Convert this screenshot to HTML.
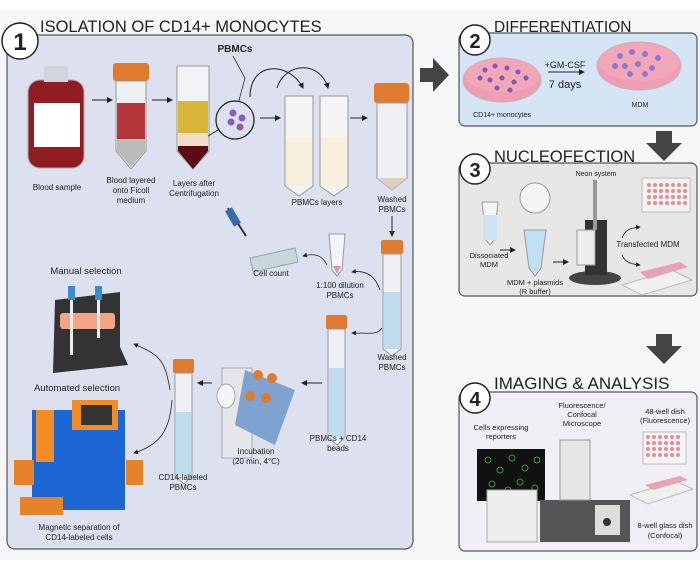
<!DOCTYPE html>
<html><head><meta charset="utf-8"><style>
html,body{margin:0;padding:0;background:#fff}
svg{display:block}
text{font-family:"Liberation Sans",sans-serif;fill:#222}
</style></head><body>
<svg width="700" height="571" viewBox="0 0 700 571" xmlns="http://www.w3.org/2000/svg">
<defs>
<marker id="a" markerWidth="6" markerHeight="6" refX="5" refY="3" orient="auto"><path d="M0,0L6,3L0,6z" fill="#222"/></marker>
</defs>
<rect x="0" y="10" width="700" height="550" fill="#f6f7f9"/>
<rect x="7" y="35" width="406" height="514" rx="8" fill="#dde0ef" stroke="#555" stroke-width="1.2"/>
<circle cx="20" cy="41" r="18" fill="#fff" stroke="#222" stroke-width="1.5"/>
<text x="20" y="50" font-size="24" font-weight="bold" text-anchor="middle">1</text>
<text x="40" y="32" font-size="16.5">ISOLATION OF CD14+ MONOCYTES</text>
<rect x="28" y="80" width="56" height="88" rx="12" fill="#8f1d22" stroke="#aaa"/>
<rect x="44" y="66" width="24" height="16" fill="#cfd6dc"/>
<rect x="34" y="103" width="46" height="44" fill="#fff"/>
<text x="57" y="190" font-size="8" text-anchor="middle">Blood sample</text>
<rect x="113" y="63" width="36" height="18" rx="3" fill="#e07a2e"/>
<path d="M116,81h30v70l-15,18l-15,-18z" fill="#eef0f3" stroke="#999"/>
<rect x="117" y="103" width="28" height="36" fill="#b3363b"/>
<path d="M117,139h28v12l-14,16l-14,-16z" fill="#bbb"/>
<text x="131" y="183" font-size="8" text-anchor="middle">Blood layered</text>
<text x="131" y="193" font-size="8" text-anchor="middle">onto Ficoll</text>
<text x="131" y="203" font-size="8" text-anchor="middle">medium</text>
<path d="M177,66h32v85l-16,18l-16,-18z" fill="#f2f3f5" stroke="#999"/>
<rect x="178" y="101" width="30" height="32" fill="#d7b63a"/>
<rect x="178" y="133" width="30" height="13" fill="#f0dcc8"/>
<path d="M178,146h30v5l-15,18l-15,-18z" fill="#5c0b12"/>
<text x="194" y="186" font-size="8" text-anchor="middle">Layers after</text>
<text x="194" y="196" font-size="8" text-anchor="middle">Centrifugation</text>
<text x="235" y="52" font-size="10" font-weight="bold" text-anchor="middle">PBMCs</text>
<path d="M233,56l12,22l-8,30" stroke="#333" fill="none" stroke-width="0.8"/>
<circle cx="235" cy="120" r="19" fill="#dde0ef" stroke="#222" stroke-width="1.3"/>
<circle cx="233" cy="113" r="3.5" fill="#8a5bb8"/><circle cx="242" cy="118" r="3.5" fill="#8a5bb8"/><circle cx="231" cy="122" r="3.5" fill="#8a5bb8"/><circle cx="240" cy="127" r="3.5" fill="#8a5bb8"/>
<path d="M218,130l-10,6" stroke="#222"/>
<path d="M92,100h20" stroke="#222" marker-end="url(#a)"/>
<path d="M152,100h20" stroke="#222" marker-end="url(#a)"/>
<path d="M260,118h20" stroke="#222" marker-end="url(#a)"/>
<path d="M250,97C250,60 290,62 303,88" stroke="#222" fill="none" marker-end="url(#a)"/>
<path d="M277,88C285,62 320,60 328,88" stroke="#222" fill="none" marker-end="url(#a)"/>
<path d="M285,96h28v90l-14,10l-14,-10z" fill="#f4f4f4" stroke="#999"/>
<path d="M320,96h28v90l-14,10l-14,-10z" fill="#f4f4f4" stroke="#999"/>
<rect x="286" y="138" width="26" height="48" fill="#f6f0dc"/>
<rect x="321" y="138" width="26" height="48" fill="#f6f0dc"/>
<text x="317" y="205" font-size="8" text-anchor="middle">PBMCs layers</text>
<path d="M350,118h17" stroke="#222" marker-end="url(#a)"/>
<rect x="374" y="83" width="35" height="20" rx="3" fill="#e07a2e"/>
<path d="M377,103h30v75l-15,12l-15,-12z" fill="#eef0f3" stroke="#999"/>
<path d="M377,178h30l-15,12z" fill="#ddd0bd"/>
<text x="392" y="202" font-size="8" text-anchor="middle">Washed</text>
<text x="392" y="212" font-size="8" text-anchor="middle">PBMCs</text>
<path d="M392,216v20" stroke="#222" marker-end="url(#a)"/>
<rect x="381" y="240" width="22" height="14" rx="2" fill="#e07a2e"/>
<path d="M383,254h18v95l-9,7l-9,-7z" fill="#eef0f3" stroke="#999"/>
<rect x="384" y="292" width="16" height="57" fill="#bfdcee"/>
<text x="392" y="360" font-size="8" text-anchor="middle">Washed</text>
<text x="392" y="370" font-size="8" text-anchor="middle">PBMCs</text>
<path d="M329,234h16l-3,36l-5,6l-5,-6z" fill="#f5f5f5" stroke="#999"/>
<path d="M333,266h8l-4,8z" fill="#e890b0"/>
<text x="340" y="288" font-size="8" text-anchor="middle">1:100 dilution</text>
<text x="340" y="298" font-size="8" text-anchor="middle">PBMCs</text>
<path d="M380,290C375,275 365,270 352,272" stroke="#222" fill="none" stroke-width="0.8" marker-end="url(#a)"/>
<path d="M327,265C322,255 315,253 303,256" stroke="#222" fill="none" stroke-width="0.8" marker-end="url(#a)"/>
<path d="M250,258l45,-10l3,14l-45,10z" fill="#c7d7dc" stroke="#8aa"/>
<path d="M228,208l18,28" stroke="#333" stroke-width="2"/>
<rect x="229" y="208" width="8" height="18" fill="#3a6aa8" transform="rotate(-30 233 217)"/>
<text x="271" y="276" font-size="8" text-anchor="middle">Cell count</text>
<text x="86" y="274" font-size="9.5" text-anchor="middle">Manual selection</text>
<path d="M55,300l65,-8v55l8,18l-75,8z" fill="#333"/>
<rect x="60" y="313" width="55" height="16" rx="3" fill="#f2a585"/>
<rect x="68" y="286" width="7" height="14" fill="#3a8ec8"/><rect x="95" y="286" width="7" height="14" fill="#3a8ec8"/>
<rect x="70" y="300" width="3" height="55" fill="#eee"/><rect x="97" y="300" width="3" height="38" fill="#eee"/>
<text x="77" y="391" font-size="9.5" text-anchor="middle">Automated selection</text>
<rect x="32" y="410" width="93" height="100" fill="#1c66d4"/>
<rect x="72" y="400" width="46" height="30" fill="#f28d26"/>
<rect x="81" y="405" width="31" height="20" fill="#333"/>
<rect x="36" y="410" width="18" height="52" fill="#f28d26"/>
<rect x="14" y="460" width="20" height="25" fill="#e8822a"/><rect x="126" y="460" width="17" height="25" fill="#e8822a"/>
<rect x="20" y="497" width="43" height="18" fill="#e8822a"/>
<text x="79" y="530" font-size="8" text-anchor="middle">Magnetic separation of</text>
<text x="79" y="540" font-size="8" text-anchor="middle">CD14-labeled cells</text>
<path d="M170,390C165,360 160,355 134,344" stroke="#222" fill="none" stroke-width="0.8" marker-end="url(#a)"/>
<path d="M172,400C170,430 160,445 134,453" stroke="#222" fill="none" stroke-width="0.8" marker-end="url(#a)"/>
<rect x="173" y="359" width="21" height="14" rx="2" fill="#e07a2e"/>
<path d="M175,373h17v103l-8,8l-9,-8z" fill="#eef0f3" stroke="#999"/>
<rect x="176" y="412" width="15" height="64" fill="#bfdcee"/>
<text x="183" y="480" font-size="8" text-anchor="middle">CD14-labeled</text>
<text x="183" y="490" font-size="8" text-anchor="middle">PBMCs</text>
<path d="M212,383h-14" stroke="#222" marker-end="url(#a)"/>
<path d="M222,368h30v90h-30z" fill="#e4e6ea" stroke="#aaa"/>
<ellipse cx="226" cy="396" rx="9" ry="12" fill="#f5f5f5" stroke="#aaa"/>
<path d="M245,370l50,20l-20,55l-40,-20z" fill="#7fa3d0"/>
<circle cx="258" cy="375" r="5" fill="#e07a2e"/><circle cx="266" cy="398" r="5" fill="#e07a2e"/><circle cx="250" cy="396" r="5" fill="#e07a2e"/><circle cx="272" cy="378" r="5" fill="#e07a2e"/>
<text x="256" y="454" font-size="8" text-anchor="middle">Incubation</text>
<text x="256" y="464" font-size="8" text-anchor="middle">(20 min, 4°C)</text>
<path d="M322,383h-20" stroke="#222" marker-end="url(#a)"/>
<rect x="326" y="315" width="21" height="14" rx="2" fill="#e07a2e"/>
<path d="M328,329h17v108l-8,8l-9,-8z" fill="#eef0f3" stroke="#999"/>
<rect x="329" y="368" width="15" height="69" fill="#bfdcee"/>
<text x="338" y="441" font-size="8" text-anchor="middle">PBMCs + CD14</text>
<text x="338" y="451" font-size="8" text-anchor="middle">beads</text>
<path d="M382,328C378,335 370,333 352,333" stroke="#222" fill="none" stroke-width="0.8" marker-end="url(#a)"/>
<path d="M420,68h13v-10l16,17l-16,17v-10h-13z" fill="#444"/>
<rect x="459" y="33" width="238" height="93" rx="6" fill="#d5e5f5" stroke="#555" stroke-width="1.2"/>
<circle cx="475" cy="40" r="15" fill="#fff" stroke="#222" stroke-width="1.5"/>
<text x="475" y="48" font-size="20" font-weight="bold" text-anchor="middle">2</text>
<text x="494" y="32" font-size="15.5">DIFFERENTIATION</text>
<ellipse cx="502" cy="80" rx="39" ry="22" fill="#ef9db2" stroke="#bbb"/>
<ellipse cx="502" cy="75" rx="37" ry="17" fill="#f2a7b9"/>
<g fill="#7a5bb5"><circle cx="485" cy="70" r="2.5"/><circle cx="495" cy="66" r="2.5"/><circle cx="507" cy="68" r="2.5"/><circle cx="518" cy="72" r="2.5"/><circle cx="490" cy="80" r="2.5"/><circle cx="502" cy="78" r="2.5"/><circle cx="514" cy="82" r="2.5"/><circle cx="526" cy="78" r="2.5"/><circle cx="480" cy="78" r="2.5"/><circle cx="497" cy="88" r="2.5"/><circle cx="510" cy="90" r="2.5"/></g>
<text x="502" y="117" font-size="7" text-anchor="middle">CD14+ monocytes</text>
<text x="565" y="68" font-size="9" text-anchor="middle">+GM-CSF</text>
<path d="M548,72h36" stroke="#222" marker-end="url(#a)"/>
<text x="565" y="88" font-size="11" text-anchor="middle">7 days</text>
<ellipse cx="639" cy="66" rx="42" ry="24" fill="#ef9db2" stroke="#bbb"/>
<ellipse cx="639" cy="62" rx="40" ry="19" fill="#f2a7b9"/>
<g fill="#8b7ad0"><circle cx="620" cy="56" r="3"/><circle cx="632" cy="52" r="3"/><circle cx="645" cy="54" r="3"/><circle cx="658" cy="58" r="3"/><circle cx="625" cy="66" r="3"/><circle cx="638" cy="64" r="3"/><circle cx="652" cy="68" r="3"/><circle cx="615" cy="66" r="3"/><circle cx="645" cy="74" r="3"/><circle cx="630" cy="74" r="3"/></g>
<text x="640" y="107" font-size="7" text-anchor="middle">MDM</text>
<path d="M656,131h16v12h10l-18,18l-18,-18h10z" fill="#444"/>
<rect x="459" y="163" width="238" height="133" rx="6" fill="#e7e7e8" stroke="#555" stroke-width="1.2"/>
<circle cx="475" cy="169" r="15" fill="#fff" stroke="#222" stroke-width="1.5"/>
<text x="475" y="177" font-size="20" font-weight="bold" text-anchor="middle">3</text>
<text x="494" y="162" font-size="16.5">NUCLEOFECTION</text>
<path d="M482,202h16l-4,38l-4,5l-4,-5z" fill="#f4f4f4" stroke="#999"/>
<rect x="483" y="215" width="14" height="25" fill="#cfe3f2"/>
<text x="489" y="258" font-size="7.5" text-anchor="middle">Dissociated</text>
<text x="489" y="267" font-size="7.5" text-anchor="middle">MDM</text>
<path d="M500,250h15" stroke="#222" marker-end="url(#a)"/>
<circle cx="535" cy="198" r="15" fill="#f4f4f4" stroke="#999"/>
<path d="M524,230h22l-5,38l-6,8l-6,-8z" fill="#bfe0f5" stroke="#999"/>
<text x="535" y="285" font-size="7.5" text-anchor="middle">MDM + plasmids</text>
<text x="535" y="294" font-size="7.5" text-anchor="middle">(R buffer)</text>
<path d="M553,262h15" stroke="#222" marker-end="url(#a)"/>
<text x="596" y="176" font-size="7" text-anchor="middle">Neon system</text>
<ellipse cx="595" cy="278" rx="26" ry="7" fill="#444"/>
<rect x="585" y="220" width="22" height="55" fill="#333"/>
<rect x="577" y="230" width="18" height="35" fill="#eee" stroke="#999"/>
<rect x="593" y="180" width="4" height="50" fill="#999"/>
<rect x="642" y="178" width="48" height="34" fill="#f3f3f3" stroke="#bbb"/>
<g fill="#e58d93">
<circle cx="649" cy="185" r="2"/><circle cx="655" cy="185" r="2"/><circle cx="661" cy="185" r="2"/><circle cx="667" cy="185" r="2"/><circle cx="673" cy="185" r="2"/><circle cx="679" cy="185" r="2"/><circle cx="685" cy="185" r="2"/>
<circle cx="649" cy="191" r="2"/><circle cx="655" cy="191" r="2"/><circle cx="661" cy="191" r="2"/><circle cx="667" cy="191" r="2"/><circle cx="673" cy="191" r="2"/><circle cx="679" cy="191" r="2"/><circle cx="685" cy="191" r="2"/>
<circle cx="649" cy="197" r="2"/><circle cx="655" cy="197" r="2"/><circle cx="661" cy="197" r="2"/><circle cx="667" cy="197" r="2"/><circle cx="673" cy="197" r="2"/><circle cx="679" cy="197" r="2"/><circle cx="685" cy="197" r="2"/>
<circle cx="649" cy="203" r="2"/><circle cx="655" cy="203" r="2"/><circle cx="661" cy="203" r="2"/><circle cx="667" cy="203" r="2"/><circle cx="673" cy="203" r="2"/><circle cx="679" cy="203" r="2"/><circle cx="685" cy="203" r="2"/>
</g>
<path d="M622,238C625,230 630,228 640,227" stroke="#222" fill="none" stroke-width="0.8" marker-end="url(#a)"/>
<path d="M622,255C625,262 630,264 640,265" stroke="#222" fill="none" stroke-width="0.8" marker-end="url(#a)"/>
<text x="648" y="247" font-size="8" text-anchor="middle">Transfected  MDM</text>
<path d="M622,285l50,-15l20,10l-50,15z" fill="#f0f0f0" stroke="#bbb"/>
<path d="M640,272l40,-10l8,5l-40,12z" fill="#e6a3b5"/>
<path d="M656,334h16v12h10l-18,18l-18,-18h10z" fill="#444"/>
<rect x="459" y="392" width="238" height="159" rx="6" fill="#f2eef6" stroke="#555" stroke-width="1.2"/>
<circle cx="475" cy="398" r="15" fill="#fff" stroke="#222" stroke-width="1.5"/>
<text x="475" y="406" font-size="20" font-weight="bold" text-anchor="middle">4</text>
<text x="494" y="389" font-size="17">IMAGING &amp; ANALYSIS</text>
<text x="582" y="408" font-size="7.5" text-anchor="middle">Fluorescence/</text>
<text x="582" y="417" font-size="7.5" text-anchor="middle">Confocal</text>
<text x="582" y="426" font-size="7.5" text-anchor="middle">Microscope</text>
<text x="501" y="430" font-size="7.5" text-anchor="middle">Cells expressing</text>
<text x="501" y="439" font-size="7.5" text-anchor="middle">reporters</text>
<rect x="477" y="449" width="68" height="52" fill="#111"/>
<g fill="none" stroke="#3a9a3a" stroke-width="1"><circle cx="488" cy="460" r="3"/><circle cx="500" cy="470" r="3"/><circle cx="512" cy="458" r="3"/><circle cx="525" cy="468" r="3"/><circle cx="537" cy="460" r="3"/><circle cx="492" cy="484" r="3"/><circle cx="508" cy="490" r="3"/><circle cx="520" cy="482" r="3"/><circle cx="535" cy="488" r="3"/></g>
<rect x="487" y="490" width="50" height="52" fill="#eee" stroke="#aaa"/>
<rect x="540" y="500" width="90" height="42" fill="#555"/>
<rect x="560" y="440" width="30" height="60" fill="#e6e6e6" stroke="#999"/>
<rect x="595" y="505" width="25" height="30" fill="#ddd"/>
<circle cx="607" cy="522" r="4" fill="#333"/>
<text x="665" y="414" font-size="7.5" text-anchor="middle">48-well dish</text>
<text x="665" y="423" font-size="7.5" text-anchor="middle">(Fluorescence)</text>
<rect x="643" y="432" width="43" height="32" fill="#f4f4f4" stroke="#bbb"/>
<g fill="#e58d93">
<circle cx="648" cy="437" r="2"/><circle cx="654" cy="437" r="2"/><circle cx="660" cy="437" r="2"/><circle cx="666" cy="437" r="2"/><circle cx="672" cy="437" r="2"/><circle cx="678" cy="437" r="2"/>
<circle cx="648" cy="443" r="2"/><circle cx="654" cy="443" r="2"/><circle cx="660" cy="443" r="2"/><circle cx="666" cy="443" r="2"/><circle cx="672" cy="443" r="2"/><circle cx="678" cy="443" r="2"/>
<circle cx="648" cy="449" r="2"/><circle cx="654" cy="449" r="2"/><circle cx="660" cy="449" r="2"/><circle cx="666" cy="449" r="2"/><circle cx="672" cy="449" r="2"/><circle cx="678" cy="449" r="2"/>
<circle cx="648" cy="455" r="2"/><circle cx="654" cy="455" r="2"/><circle cx="660" cy="455" r="2"/><circle cx="666" cy="455" r="2"/><circle cx="672" cy="455" r="2"/><circle cx="678" cy="455" r="2"/>
</g>
<path d="M630,495l45,-14l18,8l-45,15z" fill="#f0f0f0" stroke="#bbb"/>
<path d="M645,485l35,-9l8,4l-35,10z" fill="#e6a3b5"/>
<text x="665" y="528" font-size="7.5" text-anchor="middle">8-well glass dish</text>
<text x="665" y="538" font-size="7.5" text-anchor="middle">(Confocal)</text>
</svg>
</body></html>
